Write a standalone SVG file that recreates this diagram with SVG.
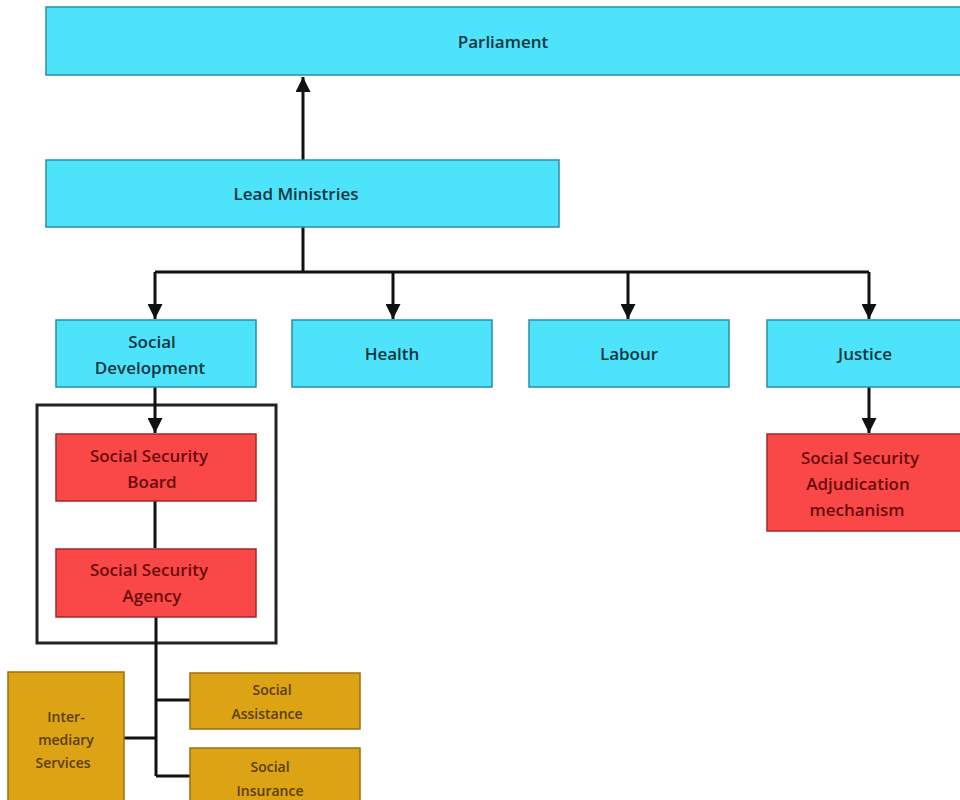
<svg xmlns="http://www.w3.org/2000/svg" width="960" height="800" viewBox="0 0 960 800">
<style>
.c{fill:#4de4fb;stroke:#2a8fa3;stroke-width:1.5}
.r{fill:#fa4848;stroke:#a02828;stroke-width:1.5}
.g{fill:#dca314;stroke:#9a7010;stroke-width:1.5}
text{font-family:"Open Sans","Liberation Sans",sans-serif;text-anchor:middle;font-weight:600}
.tc{fill:#0e3440;font-size:17px}
.tr{fill:#6a0c0c;font-size:17px}
.tg{fill:#5a3d00;font-size:14px}
.ln{stroke:#111;stroke-width:3;fill:none}
</style>
<defs>
<marker id="ah" viewBox="0 0 10 10" refX="10" refY="5" markerWidth="5.5" markerHeight="5" orient="auto" markerUnits="strokeWidth">
<path d="M0,0 L10,5 L0,10 z" fill="#111"/>
</marker>
</defs>
<rect width="960" height="800" fill="#fefefe"/>
<rect x="37" y="405" width="239" height="238" fill="none" stroke="#222" stroke-width="3"/>
<g id="connectors">
<line class="ln" x1="303" y1="160" x2="303" y2="77" marker-end="url(#ah)"/>
<line class="ln" x1="303" y1="227" x2="303" y2="272"/>
<line class="ln" x1="155" y1="272" x2="869" y2="272"/>
<line class="ln" x1="155" y1="272" x2="155" y2="319" marker-end="url(#ah)"/>
<line class="ln" x1="393" y1="272" x2="393" y2="319" marker-end="url(#ah)"/>
<line class="ln" x1="628" y1="272" x2="628" y2="319" marker-end="url(#ah)"/>
<line class="ln" x1="869" y1="272" x2="869" y2="319" marker-end="url(#ah)"/>
<line class="ln" x1="155" y1="387" x2="155" y2="433" marker-end="url(#ah)"/>
<line class="ln" x1="869" y1="387" x2="869" y2="433" marker-end="url(#ah)"/>
<line class="ln" x1="155" y1="501" x2="155" y2="548"/>
<line class="ln" x1="156" y1="617" x2="156" y2="776"/>
<line class="ln" x1="156" y1="700" x2="190" y2="700"/>
<line class="ln" x1="156" y1="776" x2="190" y2="776"/>
<line class="ln" x1="124" y1="738" x2="156" y2="738"/>
</g>
<g id="parliament"><rect class="c" x="46" y="7" width="916" height="68"/><text class="tc" x="503" y="48">Parliament</text></g>
<g id="lead"><rect class="c" x="46" y="160" width="513" height="67"/><text class="tc" x="296" y="200">Lead Ministries</text></g>
<g id="socdev"><rect class="c" x="56" y="320" width="200" height="67"/><text class="tc" x="152" y="348">Social</text><text class="tc" x="150" y="374">Development</text></g>
<g id="health"><rect class="c" x="292" y="320" width="200" height="67"/><text class="tc" x="392" y="360">Health</text></g>
<g id="labour"><rect class="c" x="529" y="320" width="200" height="67"/><text class="tc" x="629" y="360">Labour</text></g>
<g id="justice"><rect class="c" x="767" y="320" width="200" height="67"/><text class="tc" x="865" y="360">Justice</text></g>
<g id="ssboard"><rect class="r" x="56" y="434" width="200" height="67"/><text class="tr" x="149" y="462">Social Security</text><text class="tr" x="152" y="488">Board</text></g>
<g id="ssagency"><rect class="r" x="56" y="549" width="200" height="68"/><text class="tr" x="149" y="576">Social Security</text><text class="tr" x="152" y="602">Agency</text></g>
<g id="adjud"><rect class="r" x="767" y="434" width="200" height="97"/><text class="tr" x="860" y="464">Social Security</text><text class="tr" x="858" y="490">Adjudication</text><text class="tr" x="857" y="516">mechanism</text></g>
<g id="assist"><rect class="g" x="190" y="673" width="170" height="56"/><text class="tg" x="272" y="695">Social</text><text class="tg" x="267" y="719">Assistance</text></g>
<g id="insur"><rect class="g" x="190" y="748" width="170" height="60"/><text class="tg" x="270" y="772">Social</text><text class="tg" x="270" y="796">Insurance</text></g>
<g id="inter"><rect class="g" x="8" y="672" width="116" height="136"/><text class="tg" x="66" y="722">Inter-</text><text class="tg" x="66" y="745">mediary</text><text class="tg" x="63" y="768">Services</text></g>
</svg>
